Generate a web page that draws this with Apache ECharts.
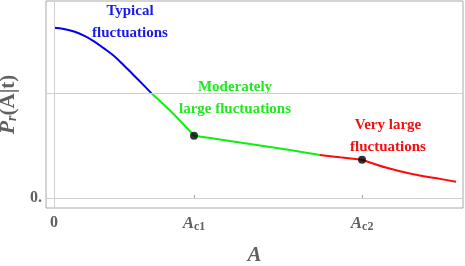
<!DOCTYPE html>
<html>
<head>
<meta charset="utf-8">
<script src="https://cdn.jsdelivr.net/npm/echarts@6/dist/echarts.min.js"></script>
<style>html,body{margin:0;padding:0;background:#fff}#c{width:465px;height:266px}</style>
</head>
<body>
<div id="c"></div>
<script>
// Data (A in units of A_c1, P in units of the gridline value)
const typical = [[0,1.627],[0.071,1.615],[0.143,1.591],[0.214,1.551],[0.286,1.497],[0.357,1.429],[0.429,1.356],[0.5,1.265],[0.571,1.171],[0.643,1.074],[0.7,0.995]];
const moderateA = [[0.7,0.995],[0.85,0.807],[1.0,0.595]];
const moderateB = [[1.0,0.595],[1.209,0.554],[1.448,0.506],[1.686,0.458],[1.9,0.411]];
const largeA = [[1.9,0.411],[2.043,0.389],[2.2,0.366]];
const largeB = [[2.2,0.366],[2.376,0.289],[2.566,0.226],[2.734,0.188],[2.871,0.156]];
const criticalPoints = [[1.0,0.595],[2.2,0.366]];
const xTickValues = [0, 1, 2.2];
const xTickLabels = ['0', 'A|c1', 'A|c2'];
const yTickValues = [0];
const yTickLabels = ['0.'];
const gridYValues = [0, 1];
const gridXValues = [0];

const BLUE = '#0000f0', GREEN = '#11ee11', RED = '#ff0a0a', GRAY = '#606060';
const serif = '"Liberation Serif","DejaVu Serif",serif';

function fmtX(v) {
  const i = xTickValues.findIndex(t => Math.abs(t - v) < 1e-6);
  if (i < 0) return '';
  const s = xTickLabels[i];
  if (s.indexOf('|') < 0) return '{n|' + s + '}';
  const p = s.split('|');
  return '{i|' + p[0] + '}{s|' + p[1] + '}';
}

const lineSeries = (data, color) => ({
  type: 'line', data: data, showSymbol: false, smooth: 0.35, z: 3,
  lineStyle: { color: color, width: 2 }, silent: true
});

const chart = echarts.init(document.getElementById('c'), null, { renderer: 'canvas' });
chart.setOption({
  animation: false,
  grid: { left: 46, right: 2, top: 1, bottom: 58, containLabel: false, outerBoundsMode: 'none', show: true, borderColor: '#a8a8a8', borderWidth: 1, backgroundColor: 'transparent' },
  xAxis: {
    type: 'value', min: -0.0571, max: 2.921,
    axisLine: { show: false },
    splitLine: { show: false },
    axisTick: { show: true, inside: true, length: 3, customValues: [1, 2.2], lineStyle: { color: '#a8a8a8' } },
    axisLabel: {
      customValues: xTickValues, formatter: fmtX, margin: 7,
      rich: {
        n: { fontFamily: serif, fontSize: 16, fontWeight: 'bold', color: GRAY },
        i: { fontFamily: serif, fontSize: 17, fontStyle: 'italic', fontWeight: 'bold', color: GRAY },
        s: { fontFamily: serif, fontSize: 12, fontWeight: 'bold', color: GRAY, verticalAlign: 'bottom', padding: [6, 0, 0, 0] }
      }
    },
    name: 'A', nameLocation: 'middle', nameGap: 37,
    nameTextStyle: { fontFamily: serif, fontSize: 21, fontStyle: 'italic', fontWeight: 'bold', color: GRAY }
  },
  yAxis: {
    type: 'value', min: -0.0955, max: 1.882,
    axisLine: { show: false },
    splitLine: { show: false },
    axisTick: { show: true, inside: true, length: 3, customValues: yTickValues, lineStyle: { color: '#a8a8a8' } },
    axisLabel: {
      customValues: yTickValues, margin: 4,
      formatter: v => yTickLabels[yTickValues.indexOf(v)] || '',
      fontFamily: serif, fontSize: 16, fontWeight: 'bold', color: GRAY
    },
    name: '{p|P}{s|r}{n|(A|t)}', nameLocation: 'middle', nameGap: 16, nameRotate: 90,
    nameTextStyle: {
      rich: {
        p: { fontFamily: serif, fontSize: 22, fontStyle: 'italic', fontWeight: 'bold', color: GRAY },
        s: { fontFamily: serif, fontSize: 14, fontStyle: 'italic', fontWeight: 'bold', color: GRAY, verticalAlign: 'bottom', padding: [8, 0, 0, 0] },
        n: { fontFamily: serif, fontSize: 21, fontWeight: 'bold', color: GRAY }
      }
    }
  },
  graphic: [
    { type: 'text', silent: true, x: 130, y: 0, style: { text: 'Typical\nfluctuations', textAlign: 'center', fill: '#1a1ae6', font: 'bold 15px ' + serif, lineHeight: 22 } },
    { type: 'text', silent: true, x: 235, y: 76, style: { text: 'Moderately\nlarge fluctuations', textAlign: 'center', fill: '#22e822', font: 'bold 15px ' + serif, lineHeight: 22 } },
    { type: 'text', silent: true, x: 388, y: 114, style: { text: 'Very large\nfluctuations', textAlign: 'center', fill: '#f01010', font: 'bold 15px ' + serif, lineHeight: 22 } }
  ],
  series: [
    {
      type: 'line', data: [], z: 1, silent: true,
      markLine: {
        silent: true, symbol: ['none', 'none'], label: { show: false },
        lineStyle: { color: '#cfcfcf', type: 'solid', width: 1 },
        data: gridYValues.map(v => ({ yAxis: v })).concat(gridXValues.map(v => ({ xAxis: v })))
      }
    },
    lineSeries(typical, BLUE),
    lineSeries(moderateA, GREEN),
    lineSeries(moderateB, GREEN),
    lineSeries(largeA, RED),
    lineSeries(largeB, RED),
    { type: 'scatter', data: criticalPoints, symbolSize: 8, itemStyle: { color: '#000' }, z: 4, silent: true }
  ]
});
</script>
</body>
</html>
